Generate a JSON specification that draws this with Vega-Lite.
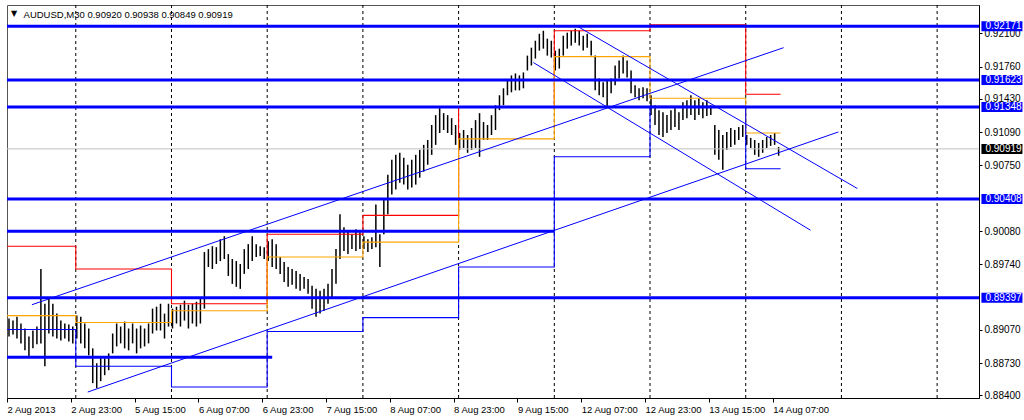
{
"$schema":"https://vega.github.io/schema/vega-lite/v6.json",
"width":1024,"height":420,
"autosize":{"type":"fit","contains":"padding"},
"padding":{"left":4,"top":4,"right":0,"bottom":6},
"background":"white",
"config":{"view":{"stroke":"#555"},
 "axisX":{"grid":false,"labelAlign":"left","labelBaseline":"top","labelPadding":2,"tickSize":4,"labelOverlap":false,"labelFlush":false,"labelBound":false,"domainColor":"#000","tickColor":"#000","labelColor":"#000","labelFont":"Liberation Sans","labelFontSize":9.5},
 "axisY":{"grid":false,"tickSize":3,"labelPadding":2,"labelOverlap":false,"labelFlush":false,"labelBound":false,"labelBaseline":"middle","domainColor":"#000","tickColor":"#000","labelColor":"#000","labelFont":"Liberation Sans","labelFontSize":10}},
"resolve":{"scale":{"color":"independent"}},
"datasets":{
"bars":[
{"t":1,"p":0.89185,"l":0.89003},{"t":3,"p":0.89165,"l":0.89023},{"t":5,"p":0.89205,"l":0.88982},{"t":7,"p":0.89135,"l":0.88932},{"t":9,"p":0.89084,"l":0.88861},{"t":11,"p":0.89003,"l":0.888},{"t":13,"p":0.89064,"l":0.88881},{"t":15,"p":0.89104,"l":0.88922},{"t":17,"p":0.89692,"l":0.88932},{"t":19,"p":0.89337,"l":0.88698},
{"t":21,"p":0.89388,"l":0.89033},{"t":23,"p":0.89337,"l":0.89003},{"t":25,"p":0.89236,"l":0.88982},{"t":27,"p":0.89165,"l":0.88962},{"t":29,"p":0.89135,"l":0.88982},{"t":31,"p":0.89124,"l":0.88952},{"t":33,"p":0.89104,"l":0.88932},{"t":35,"p":0.89216,"l":0.88982},{"t":37,"p":0.89205,"l":0.88932},{"t":39,"p":0.89135,"l":0.88881},
{"t":41,"p":0.89084,"l":0.8881},{"t":43,"p":0.88881,"l":0.88526},{"t":45,"p":0.88729,"l":0.88475},{"t":47,"p":0.888,"l":0.88546},{"t":49,"p":0.8878,"l":0.88607},{"t":51,"p":0.8883,"l":0.88658},{"t":53,"p":0.89033,"l":0.8883},{"t":55,"p":0.89135,"l":0.88901},{"t":57,"p":0.89104,"l":0.88932},{"t":59,"p":0.89155,"l":0.88881},
{"t":61,"p":0.89084,"l":0.88861},{"t":63,"p":0.89135,"l":0.88932},{"t":65,"p":0.89084,"l":0.8883},{"t":67,"p":0.89114,"l":0.88881},{"t":69,"p":0.89084,"l":0.88901},{"t":71,"p":0.89135,"l":0.88932},{"t":73,"p":0.89287,"l":0.89033},{"t":75,"p":0.89307,"l":0.89064},{"t":77,"p":0.89337,"l":0.89064},{"t":79,"p":0.89236,"l":0.88982},
{"t":81,"p":0.89337,"l":0.89104},{"t":83,"p":0.89287,"l":0.89084},{"t":85,"p":0.89307,"l":0.89135},{"t":87,"p":0.89327,"l":0.89104},{"t":89,"p":0.89368,"l":0.89165},{"t":91,"p":0.89327,"l":0.89084},{"t":93,"p":0.89337,"l":0.89135},{"t":95,"p":0.89357,"l":0.89104},{"t":97,"p":0.89388,"l":0.89135},{"t":99,"p":0.89865,"l":0.89287},
{"t":101,"p":0.89895,"l":0.89712},{"t":103,"p":0.89925,"l":0.89692},{"t":105,"p":0.89915,"l":0.89743},{"t":107,"p":0.89996,"l":0.89773},{"t":109,"p":0.90027,"l":0.89794},{"t":111,"p":0.89844,"l":0.89621},{"t":113,"p":0.89794,"l":0.8954},{"t":115,"p":0.89773,"l":0.8951},{"t":117,"p":0.89743,"l":0.89489},{"t":119,"p":0.89895,"l":0.89642},
{"t":121,"p":0.89946,"l":0.89692},{"t":123,"p":0.90027,"l":0.89773},{"t":125,"p":0.89946,"l":0.89814},{"t":127,"p":0.89925,"l":0.89824},{"t":129,"p":0.89915,"l":0.89794},{"t":131,"p":0.89976,"l":0.89773},{"t":133,"p":0.89996,"l":0.89712},{"t":135,"p":0.89946,"l":0.89692},{"t":137,"p":0.89814,"l":0.89642},{"t":139,"p":0.89763,"l":0.8956},
{"t":141,"p":0.89712,"l":0.8951},{"t":143,"p":0.89692,"l":0.8953},{"t":145,"p":0.89672,"l":0.89489},{"t":147,"p":0.89642,"l":0.89469},{"t":149,"p":0.89611,"l":0.89489},{"t":151,"p":0.89591,"l":0.89439},{"t":153,"p":0.8952,"l":0.89287},{"t":155,"p":0.89489,"l":0.89205},{"t":157,"p":0.89469,"l":0.89236},{"t":159,"p":0.89489,"l":0.89266},
{"t":161,"p":0.8954,"l":0.89337},{"t":163,"p":0.89692,"l":0.89388},{"t":165,"p":0.89895,"l":0.8954},{"t":167,"p":0.9025,"l":0.89794},{"t":169,"p":0.90118,"l":0.89875},{"t":171,"p":0.90078,"l":0.89844},{"t":173,"p":0.90047,"l":0.89895},{"t":175,"p":0.90098,"l":0.89875},{"t":177,"p":0.90067,"l":0.89895},{"t":179,"p":0.90027,"l":0.89895},
{"t":181,"p":0.89996,"l":0.89865},{"t":183,"p":0.90017,"l":0.89895},{"t":185,"p":0.90351,"l":0.89915},{"t":187,"p":0.90047,"l":0.89712},{"t":189,"p":0.90402,"l":0.90047},{"t":191,"p":0.90655,"l":0.9025},{"t":193,"p":0.90808,"l":0.90453},{"t":195,"p":0.90858,"l":0.90503},{"t":197,"p":0.90879,"l":0.90574},{"t":199,"p":0.90828,"l":0.90554},
{"t":201,"p":0.90757,"l":0.90503},{"t":203,"p":0.90808,"l":0.90524},{"t":205,"p":0.90858,"l":0.90554},{"t":207,"p":0.90909,"l":0.90625},{"t":209,"p":0.9096,"l":0.90686},{"t":211,"p":0.9101,"l":0.90757},{"t":213,"p":0.91163,"l":0.90858},{"t":215,"p":0.91264,"l":0.9096},{"t":217,"p":0.91335,"l":0.91081},{"t":219,"p":0.91284,"l":0.91112},
{"t":221,"p":0.91264,"l":0.91081},{"t":223,"p":0.91233,"l":0.91061},{"t":225,"p":0.91163,"l":0.9096},{"t":227,"p":0.91081,"l":0.90909},{"t":229,"p":0.91112,"l":0.90929},{"t":231,"p":0.91061,"l":0.90879},{"t":233,"p":0.91132,"l":0.90909},{"t":235,"p":0.91213,"l":0.90929},{"t":237,"p":0.91284,"l":0.90838},{"t":239,"p":0.91193,"l":0.9101},
{"t":241,"p":0.91163,"l":0.9101},{"t":243,"p":0.91264,"l":0.91061},{"t":245,"p":0.91365,"l":0.91112},{"t":247,"p":0.91467,"l":0.91315},{"t":249,"p":0.91538,"l":0.91365},{"t":251,"p":0.91619,"l":0.91467},{"t":253,"p":0.9167,"l":0.91497},{"t":255,"p":0.9169,"l":0.91517},{"t":257,"p":0.9167,"l":0.91517},{"t":259,"p":0.917,"l":0.91538},
{"t":261,"p":0.91872,"l":0.9172},{"t":263,"p":0.91953,"l":0.91771},{"t":265,"p":0.92024,"l":0.91842},{"t":267,"p":0.92095,"l":0.91923},{"t":269,"p":0.92126,"l":0.91943},{"t":271,"p":0.92045,"l":0.91872},{"t":273,"p":0.92024,"l":0.91852},{"t":275,"p":0.91923,"l":0.9172},{"t":277,"p":0.91943,"l":0.9174},{"t":279,"p":0.92075,"l":0.91872},
{"t":281,"p":0.92106,"l":0.91943},{"t":283,"p":0.92126,"l":0.91974},{"t":285,"p":0.92146,"l":0.92004},{"t":287,"p":0.92126,"l":0.91974},{"t":289,"p":0.92075,"l":0.91923},{"t":291,"p":0.92095,"l":0.91953},{"t":293,"p":0.92024,"l":0.91872},{"t":295,"p":0.91872,"l":0.91517},{"t":297,"p":0.91639,"l":0.91467},{"t":299,"p":0.91599,"l":0.91446},
{"t":301,"p":0.91619,"l":0.91345},{"t":303,"p":0.91639,"l":0.91487},{"t":305,"p":0.91771,"l":0.91568},{"t":307,"p":0.91822,"l":0.91639},{"t":309,"p":0.91872,"l":0.9169},{"t":311,"p":0.91822,"l":0.91649},{"t":313,"p":0.9172,"l":0.91487},{"t":315,"p":0.91568,"l":0.91446},{"t":317,"p":0.91538,"l":0.91416},{"t":319,"p":0.91548,"l":0.91436},
{"t":321,"p":0.91538,"l":0.91406},{"t":323,"p":0.91467,"l":0.91264},{"t":325,"p":0.91365,"l":0.91163},{"t":327,"p":0.91315,"l":0.91061},{"t":329,"p":0.91294,"l":0.91041},{"t":331,"p":0.91264,"l":0.91081},{"t":333,"p":0.91315,"l":0.91112},{"t":335,"p":0.91335,"l":0.91142},{"t":337,"p":0.91294,"l":0.91112},{"t":339,"p":0.91396,"l":0.91213},
{"t":341,"p":0.91416,"l":0.91233},{"t":343,"p":0.91467,"l":0.91264},{"t":345,"p":0.91416,"l":0.91213},{"t":347,"p":0.91436,"l":0.91264},{"t":349,"p":0.91396,"l":0.91233},{"t":351,"p":0.91416,"l":0.91254},{"t":353,"p":0.91365,"l":0.91264},{"t":355,"p":0.91163,"l":0.90858},{"t":357,"p":0.91112,"l":0.90808},{"t":359,"p":0.91061,"l":0.90706},
{"t":361,"p":0.91092,"l":0.90909},{"t":363,"p":0.91132,"l":0.90939},{"t":365,"p":0.91112,"l":0.9096},{"t":367,"p":0.91142,"l":0.9101},{"t":369,"p":0.91163,"l":0.91041},{"t":371,"p":0.91061,"l":0.9096},{"t":373,"p":0.91031,"l":0.90929},{"t":375,"p":0.9101,"l":0.90858},{"t":377,"p":0.9098,"l":0.90838},{"t":379,"p":0.9101,"l":0.90879},
{"t":381,"p":0.91041,"l":0.90929},{"t":383,"p":0.91061,"l":0.9095},{"t":385,"p":0.91081,"l":0.9096},{"t":387,"p":0.90938,"l":0.90849}
],
"steps":[
{"s":"red","t":0,"p":0.89925},{"s":"red","t":34.5,"p":0.89692},{"s":"red","t":82.5,"p":0.89337},{"s":"red","t":130.5,"p":0.90047},{"s":"red","t":178.5,"p":0.9024},{"s":"red","t":226.5,"p":0.91345},{"s":"red","t":274.5,"p":0.92126},{"s":"red","t":322.5,"p":0.92187},{"s":"red","t":370.5,"p":0.91477},{"s":"red","t":388,"p":0.91477},
{"s":"orange","t":0,"p":0.89216},{"s":"orange","t":34.5,"p":0.89145},{"s":"orange","t":82.5,"p":0.89266},{"s":"orange","t":130.5,"p":0.89814},{"s":"orange","t":178.5,"p":0.89966},{"s":"orange","t":226.5,"p":0.91021},{"s":"orange","t":274.5,"p":0.91862},{"s":"orange","t":322.5,"p":0.91436},{"s":"orange","t":370.5,"p":0.91081},{"s":"orange","t":388,"p":0.91081},
{"s":"blue","t":0,"p":0.89074},{"s":"blue","t":34.5,"p":0.88698},{"s":"blue","t":82.5,"p":0.88486},{"s":"blue","t":130.5,"p":0.89053},{"s":"blue","t":178.5,"p":0.89195},{"s":"blue","t":226.5,"p":0.89712},{"s":"blue","t":274.5,"p":0.90838},{"s":"blue","t":322.5,"p":0.91355},{"s":"blue","t":370.5,"p":0.90716},{"s":"blue","t":388,"p":0.90716}
],
"levels":[
{"p":0.92171,"t":0,"t2":487.5},{"p":0.91623,"t":0,"t2":487.5},{"p":0.91348,"t":0,"t2":487.5},{"p":0.90408,"t":0,"t2":487.5},{"p":0.90078,"t":0,"t2":274.5},{"p":0.89397,"t":0,"t2":487.5},{"p":0.8879,"t":0,"t2":133}
],
"trends":[
{"k":"a","t":12.5,"p":0.89327},{"k":"a","t":389.5,"p":0.91953},
{"k":"b","t":40.5,"p":0.88435},{"k":"b","t":417,"p":0.91092},
{"k":"c","t":286.5,"p":0.92166},{"k":"c","t":426.5,"p":0.90514},
{"k":"d","t":264,"p":0.91801},{"k":"d","t":403,"p":0.90088}
],
"days":[{"t":34.5},{"t":82.5},{"t":130.5},{"t":178.5},{"t":226.5},{"t":274.5},{"t":322.5},{"t":370.5},{"t":418.5},{"t":466.5}],
"tags":[{"p":0.92171,"c":"b"},{"p":0.91623,"c":"b"},{"p":0.91348,"c":"b"},{"p":0.90408,"c":"b"},{"p":0.89397,"c":"b"},{"p":0.90919,"c":"k"}],
"cur":[{"p":0.90919}],
"head":[{"s":"AUDUSD,M30  0.90920 0.90938 0.90849 0.90919"}]
},
"layer":[
{"data":{"name":"bars"},"mark":{"type":"rule","color":"#000","strokeWidth":1.5},
 "encoding":{
  "x":{"field":"t","type":"quantitative","scale":{"domain":[0,487.5],"nice":false,"zero":false},
   "axis":{"orient":"bottom","title":null,"values":[0,32,64,96,128,160,192,224,256,288,320,352,384],
    "labelExpr":"['2 Aug 2013','2 Aug 23:00','5 Aug 15:00','6 Aug 07:00','6 Aug 23:00','7 Aug 15:00','8 Aug 07:00','8 Aug 23:00','9 Aug 15:00','12 Aug 07:00','12 Aug 23:00','13 Aug 15:00','14 Aug 07:00'][round(datum.value/32)]"}},
  "y":{"field":"p","type":"quantitative","scale":{"domain":[0.88374,0.92389],"nice":false,"zero":false},
   "axis":{"orient":"right","title":null,"values":[0.884,0.8873,0.8907,0.8974,0.9008,0.9075,0.9109,0.9143,0.9176,0.921],"format":".5f"}},
  "y2":{"field":"l"}}},
{"data":{"name":"cur"},"mark":{"type":"rule","color":"#C0C0C0","strokeWidth":1},
 "encoding":{"y":{"field":"p","type":"quantitative","scale":{"domain":[0.88374,0.92389],"nice":false,"zero":false},
   "axis":{"orient":"right","title":null,"values":[0.884,0.8873,0.8907,0.8974,0.9008,0.9075,0.9109,0.9143,0.9176,0.921],"format":".5f"}}}},
{"data":{"name":"days"},"mark":{"type":"rule","color":"#000","strokeWidth":1,"strokeDash":[3,3]},
 "encoding":{"x":{"field":"t","type":"quantitative","scale":{"domain":[0,487.5],"nice":false,"zero":false},
   "axis":{"orient":"bottom","title":null,"values":[0,32,64,96,128,160,192,224,256,288,320,352,384],
    "labelExpr":"['2 Aug 2013','2 Aug 23:00','5 Aug 15:00','6 Aug 07:00','6 Aug 23:00','7 Aug 15:00','8 Aug 07:00','8 Aug 23:00','9 Aug 15:00','12 Aug 07:00','12 Aug 23:00','13 Aug 15:00','14 Aug 07:00'][round(datum.value/32)]"}}}},
{"data":{"name":"steps"},"mark":{"type":"line","interpolate":"step-after","strokeWidth":1.1},
 "encoding":{"x":{"field":"t","type":"quantitative"},
  "y":{"field":"p","type":"quantitative"},
  "color":{"field":"s","type":"nominal","scale":{"domain":["red","orange","blue"],"range":["#FF0000","#FFA500","#0000FF"]},"legend":null}}},
{"data":{"name":"trends"},"mark":{"type":"line","color":"#0000FF","strokeWidth":1},
 "encoding":{"x":{"field":"t","type":"quantitative"},
  "y":{"field":"p","type":"quantitative"},
  "detail":{"field":"k"}}},
{"data":{"name":"levels"},"mark":{"type":"rule","color":"#0000FF","strokeWidth":3},
 "encoding":{"x":{"field":"t","type":"quantitative"},"x2":{"field":"t2"},
  "y":{"field":"p","type":"quantitative"}}},
{"data":{"name":"tags"},"mark":{"type":"point","shape":"M-1,-0.244H1V0.244H-1Z","size":1681,"filled":true,"opacity":1,"strokeWidth":0,"clip":false},
 "encoding":{"x":{"datum":499,"type":"quantitative"},
  "y":{"field":"p","type":"quantitative"},
  "color":{"field":"c","type":"nominal","scale":{"domain":["b","k"],"range":["#0000FF","#000000"]},"legend":null}}},
{"data":{"name":"tags"},"mark":{"type":"text","color":"#FFFFFF","font":"Liberation Sans","fontSize":10,"align":"center","baseline":"middle","clip":false},
 "encoding":{"x":{"datum":499.8,"type":"quantitative"},
  "y":{"field":"p","type":"quantitative"},
  "text":{"field":"p","type":"quantitative","format":".5f"}}},
{"data":{"name":"head"},"mark":{"type":"text","color":"#000","font":"Liberation Sans","fontSize":9.5,"align":"left","baseline":"alphabetic"},
 "encoding":{"x":{"datum":8.3,"type":"quantitative"},"y":{"datum":0.92258,"type":"quantitative"},"text":{"field":"s"}}},
{"data":{"name":"head"},"mark":{"type":"text","color":"#000","font":"DejaVu Sans","fontSize":8,"align":"center","baseline":"middle","text":"▼"},
 "encoding":{"x":{"datum":3.5,"type":"quantitative"},"y":{"datum":0.92295,"type":"quantitative"}}}
]
}
